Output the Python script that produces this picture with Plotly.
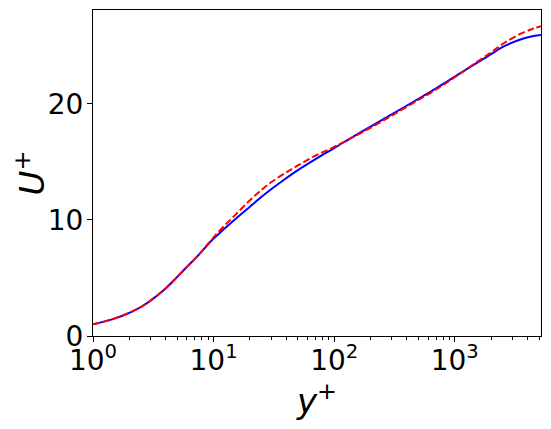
import plotly.graph_objects as go

# values
yplus_dns = [1, 1.5, 2, 2.5, 3, 4, 5, 6, 7, 8, 9, 10, 12, 15, 20, 25, 30, 40, 50, 70,
             100, 150, 200, 300, 500, 700, 1000, 1400, 2000, 2600, 3600, 4500, 5186]
uplus_dns = [1.0, 1.5, 2.0, 2.5, 3.05, 4.1, 5.1, 5.95, 6.65, 7.3, 7.9, 8.4, 9.15, 10.05, 11.15, 12.0, 12.65, 13.6, 14.3, 15.25,
             16.2, 17.3, 18.05, 19.1, 20.45, 21.35, 22.35, 23.3, 24.3, 25.0, 25.6, 25.85, 25.95]

yplus_model = [1, 1.5, 2, 2.5, 3, 4, 5, 6, 7, 8, 9, 10, 12, 15, 20, 25, 30, 40, 50, 70,
               100, 150, 200, 300, 500, 700, 1000, 1400, 2000, 2600, 3600, 4500, 5186]
uplus_model = [1.0, 1.5, 2.0, 2.5, 3.05, 4.1, 5.1, 5.95, 6.65, 7.32, 7.95, 8.5, 9.4, 10.4, 11.7, 12.6, 13.25, 14.1, 14.7, 15.55,
               16.3, 17.25, 17.95, 19.0, 20.35, 21.25, 22.3, 23.35, 24.45, 25.3, 26.1, 26.5, 26.7]

xtick_vals = [1, 10, 100, 1000]
xtick_text = ['10<sup>0</sup>', '10<sup>1</sup>', '10<sup>2</sup>', '10<sup>3</sup>']
xminor_vals = [m * 10 ** d for d in range(4) for m in range(2, 10) if m * 10 ** d < 5186]

fig = go.Figure()
fig.add_trace(go.Scatter(x=yplus_dns, y=uplus_dns, mode='lines', line_shape='spline',
                         line=dict(color='blue', width=2)))
fig.add_trace(go.Scatter(x=yplus_model, y=uplus_model, mode='lines', line_shape='spline',
                         line=dict(color='red', width=2, dash='7px,3px')))

font = dict(family='DejaVu Sans', size=28, color='black')
# page body has an 8px margin, so the figure is made 8px smaller each way
fig.update_layout(
    width=543, height=421,
    margin=dict(l=85, r=10, t=2, b=93),
    plot_bgcolor='white', paper_bgcolor='white',
    showlegend=False,
    font=font,
    xaxis=dict(type='log', range=[0, 3.7149], tickvals=xtick_vals, ticktext=xtick_text,
               ticks='outside', ticklen=5, tickwidth=1, tickcolor='black', ticklabelstandoff=-6,
               minor=dict(tickvals=xminor_vals, ticks='outside', ticklen=3, tickcolor='black', showgrid=False),
               showline=True, linecolor='black', linewidth=1, mirror=True, showgrid=False,
               zeroline=False, title=dict(text='<i>y</i><sup>+</sup>', standoff=0)),
    yaxis=dict(range=[0, 28.1], tickvals=[0, 10, 20],
               ticks='outside', ticklen=5, tickwidth=1, tickcolor='black', ticklabelstandoff=-2,
               showline=True, linecolor='black', linewidth=1, mirror=True, showgrid=False,
               zeroline=False, title=dict(text='<i>U</i><sup>+</sup>', standoff=4)),
)

fig.write_html("out.html")
